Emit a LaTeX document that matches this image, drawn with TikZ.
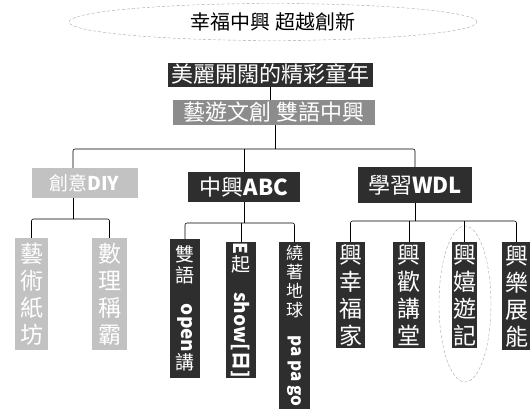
\documentclass[tikz,border=0pt]{standalone}
\usepackage{fontspec}
\usepackage{graphicx}
\setmainfont{Noto Sans CJK TC}
\usetikzlibrary{shapes,positioning}
\definecolor{darkgray}{HTML}{2E2E2E}
\definecolor{midgray}{HTML}{8C8C8C}
\definecolor{lightgray}{HTML}{C2C2C2}
\newcommand{\vlat}[1]{\rotatebox{-90}{\bfseries #1}}
\tikzset{
  box/.style={inner sep=0pt, align=center, text=white},
  dark/.style={box, fill=darkgray},
  mid/.style={box, fill=midgray},
  light/.style={box, fill=lightgray},
  leaf/.style={font=\fontsize{23}{27}\selectfont},
  smallleaf/.style={font=\fontsize{19}{21}\selectfont},
  link/.style={line width=0.6pt, rounded corners=2pt}
}

\begin{document}
\begin{tikzpicture}[x=1pt, y=-1pt]
\useasboundingbox (0,0) rectangle (530,410);

% title
\node[ellipse, draw=gray!70, densely dashed, minimum width=408pt, minimum height=37pt,
      inner sep=0pt, font=\fontsize{20}{20}\selectfont] (title) at (273,22) {幸福中興\ 超越創新};

\node[dark, minimum width=205pt, minimum height=24pt, font=\fontsize{22}{22}\selectfont] (dream) at (270,74.5) {美麗開闊的精彩童年};
\node[mid, minimum width=202pt, minimum height=25pt, font=\fontsize{22}{22}\selectfont] (motto) at (274,112.5) {藝遊文創\ 雙語中興};

% second level
\node[light, minimum width=106pt, minimum height=30pt, font=\fontsize{19}{19}\selectfont] (diy) at (84.5,183) {創意\textbf{DIY}};
\node[dark, minimum width=112pt, minimum height=30pt, font=\fontsize{22}{22}\selectfont] (abc) at (244,187) {中興\textbf{ABC}};
\node[dark, minimum width=114pt, minimum height=36pt, font=\fontsize{22}{22}\selectfont] (wdl) at (415,185) {學習\textbf{WDL}};

% leaves
\node[light, leaf, minimum width=33pt, minimum height=112pt] (art) at (31.5,294) {藝\\術\\紙\\坊};
\node[light, leaf, minimum width=35pt, minimum height=112pt] (math) at (109.5,294) {數\\理\\稱\\霸};

\node[dark, smallleaf, minimum width=30pt, minimum height=139pt] (talk) at (185,308.5) {雙\\語\\\vlat{open}\\講};
\node[dark, smallleaf, minimum width=30pt, minimum height=136pt] (show) at (241,310) {\vlat{E}\\起\\\vlat{show[日]}};
\node[dark, font=\fontsize{17}{19}\selectfont, minimum width=31pt, minimum height=167pt] (globe) at (294.5,325.5) {繞\\著\\地\\球\\\vlat{pa pa go}};

\node[dark, leaf, minimum width=29pt, minimum height=106pt] (home) at (350.5,295) {興\\幸\\福\\家};
\node[dark, leaf, minimum width=32pt, minimum height=106pt] (hall) at (409,295) {興\\歡\\講\\堂};
\node[dark, leaf, minimum width=25pt, minimum height=106pt] (trip) at (464.5,295) {興\\嬉\\遊\\記};
\node[dark, leaf, minimum width=29pt, minimum height=108pt] (grow) at (516.5,296) {興\\樂\\展\\能};

\node[ellipse, draw=gray!70, densely dashed, minimum width=52pt, minimum height=156pt] (ring) at (465,304) {};

% connectors
\coordinate (j1) at (73,149);
\coordinate (j2) at (275,149);
\coordinate (d) at (73,219);
\coordinate (a) at (244,223);
\coordinate (w) at (415,221);

\draw[link] (dream.south) -- (dream.south |- motto.north);
\draw[link] (motto.south -| j2) -- (j2);
\draw[link] (j1 |- diy.north) -- (j1) -| (wdl.north);
\draw[link] (abc.north) -- (abc.north |- j1);

\draw[link] (d |- diy.south) -- (d);
\draw[link] (art.north) |- (d) -| (math.north);

\draw[link] (abc.south) -- (a);
\draw[link] (talk.north) |- (a) -| (globe.north);
\draw[link] (show.north) -- (show.north |- a);

\draw[link] (wdl.south) -- (w);
\draw[link] (home.north) |- (w) -| (grow.north);
\draw[link] (hall.north) -- (hall.north |- w);
\draw[link] (trip.north) -- (trip.north |- w);

\end{tikzpicture}
\end{document}
